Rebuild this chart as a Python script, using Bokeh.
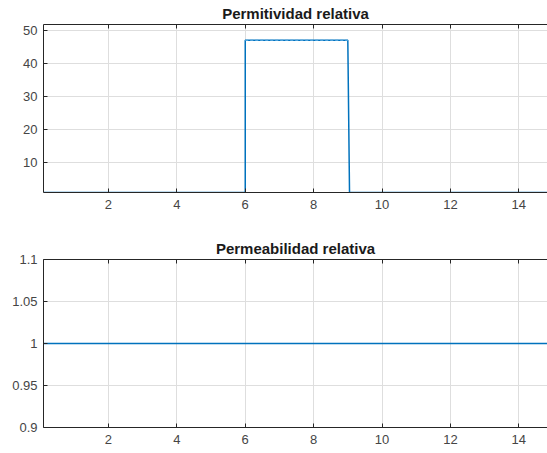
from bokeh.plotting import figure
from bokeh.layouts import column
from bokeh.models import FixedTicker, CustomJSTickFormatter, LinearAxis, Range1d
from bokeh.embed import file_html
from bokeh.resources import INLINE

# Data
x_eps = [0.1, 6.0, 6.0, 9.0, 9.05, 15.0]
eps_r = [1, 1, 47, 47, 1, 1]
x_eps_top = [6.0, 9.0]
eps_top = [47, 47]
x_mu = [0.1, 15.0]
mu_r = [1, 1]
x_ticks = [2, 4, 6, 8, 10, 12, 14]
eps_ticks = [10, 20, 30, 40, 50]
mu_ticks = [0.9, 0.95, 1.0, 1.05, 1.1]

BLUE = "#0072BD"
FONT = "Liberation Sans"
TXT = "#454545"
AX = "#262626"
GRID = "#dedede"


def make_fig(title, height, ylim, yticks, top_border, bottom_border):
    p = figure(width=547, height=height, x_range=Range1d(0.1, 14.84),
               y_range=Range1d(*ylim), output_backend="svg",
               toolbar_location=None, title=title,
               min_border_left=43, min_border_right=0,
               min_border_top=top_border, min_border_bottom=bottom_border)
    p.outline_line_color = None
    p.background_fill_color = "white"
    p.border_fill_color = "white"
    p.title.align = "center"
    p.title.text_font = FONT
    p.title.text_font_size = "15px"
    p.title.text_font_style = "bold"
    p.title.text_color = "#1a1a1a"
    p.title.standoff = 5
    p.title.offset = 0
    for ax in (p.xaxis[0], p.yaxis[0]):
        ax.major_label_text_font = FONT
        ax.major_label_text_font_size = "13px"
        ax.major_label_text_color = TXT
        ax.axis_line_color = AX
        ax.major_tick_line_color = AX
        ax.major_tick_in = 4
        ax.major_tick_out = 0
        ax.minor_tick_line_color = None
    p.xaxis[0].ticker = FixedTicker(ticks=x_ticks)
    p.yaxis[0].ticker = FixedTicker(ticks=yticks)
    p.xaxis[0].major_label_standoff = 7
    p.yaxis[0].major_label_standoff = 6
    top = LinearAxis(ticker=FixedTicker(ticks=x_ticks), axis_line_color=AX,
                     major_tick_line_color=AX, major_tick_in=4, major_tick_out=0,
                     minor_tick_line_color=None,
                     formatter=CustomJSTickFormatter(code="return ''"),
                     major_label_standoff=0)
    p.add_layout(top, "above")
    p.xgrid.ticker = FixedTicker(ticks=x_ticks)
    p.ygrid.ticker = FixedTicker(ticks=yticks)
    p.grid.grid_line_color = GRID
    p.grid.grid_line_width = 1
    return p


p1 = make_fig("Permitividad relativa", 226, (1, 51.8), eps_ticks, 24, 34)
p1.line(x_eps, eps_r, line_color=BLUE, line_width=1.5)
p1.line(x_eps_top, eps_top, line_color="#4DA3DD", line_width=1.2, line_dash="3 2")

p2 = make_fig("Permeabilidad relativa", 227, (0.9, 1.1), mu_ticks, 33, 26)
p2.yaxis[0].formatter = CustomJSTickFormatter(code="return String(Math.round(tick*100)/100)")
p2.line(x_mu, mu_r, line_color=BLUE, line_width=1.5)

layout = column(p1, p2, spacing=0)
open("out.html", "w").write(file_html(layout, INLINE))
